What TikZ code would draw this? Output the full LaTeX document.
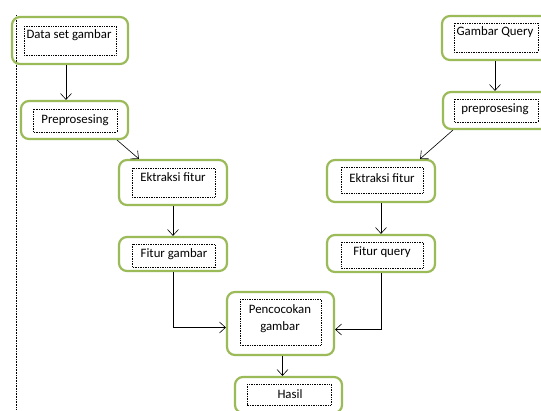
\documentclass[tikz,border=0pt]{standalone}
\usepackage{fontspec}
\setmainfont{Carlito}
\usepackage{tikz}
\usetikzlibrary{arrows.meta}

\definecolor{boxgreen}{RGB}{155,187,89}
\tikzset{
	outerbox/.style = {draw = boxgreen, line width = 2.2pt, rounded corners = 8pt, inner sep = 0pt},
	innerbox/.style = {densely dotted, line width = 0.7pt},
	label/.style = {font = \fontsize{12.8}{17}\selectfont, inner sep = 0pt, align = center},
	link/.style = {-{Straight Barb[length=6pt, width=11pt]}, line width = 0.6pt}
}

\begin{document}
\begin{tikzpicture}[x = 1pt, y = -1pt]
\clip (0,0) rectangle (541,410);

% dotted margin line
\draw[densely dotted, line width = 0.6pt] (16,15) -- (16,410);

% left branch
\node[outerbox, minimum width = 116pt, minimum height = 47pt] (dsg) at (70,40.5) {};
\draw[innerbox] (24,26) rectangle (116,55);
\node[label] (dsgT) at (69,35) {Data set gambar};

\node[outerbox, minimum width = 107pt, minimum height = 38pt] (preL) at (74.5,120) {};
\draw[innerbox] (33,109) rectangle (117,132);
\node[label] (preLT) at (75,120) {Preprosesing};

\node[outerbox, minimum width = 108pt, minimum height = 45pt] (ektL) at (173,182.5) {};
\draw[innerbox] (132,168) rectangle (215,197);
\node[label] (ektLT) at (173,177) {Ektraksi fitur};

\node[outerbox, minimum width = 108pt, minimum height = 34pt] (fitG) at (173,254) {};
\draw[innerbox] (132,244) rectangle (215,267);
\node[label] (fitGT) at (174,254) {Fitur gambar};

% right branch
\node[outerbox, minimum width = 108pt, minimum height = 44pt] (gq) at (496,38) {};
\draw[innerbox] (454,23) rectangle (538,52);
\node[label] (gqT) at (495,32) {Gambar Query};

\node[outerbox, minimum width = 108pt, minimum height = 37pt] (preR) at (497,110.5) {};
\draw[innerbox] (454,99) rectangle (538,122);
\node[label] (preRT) at (495,109) {preprosesing};

\node[outerbox, minimum width = 108pt, minimum height = 42pt] (ektR) at (381,181) {};
\draw[innerbox] (341,167) rectangle (423,193);
\node[label] (ektRT) at (382,178) {Ektraksi fitur};

\node[outerbox, minimum width = 108pt, minimum height = 37pt] (fitQ) at (381,253.5) {};
\draw[innerbox] (341,242) rectangle (423,268);
\node[label] (fitQT) at (382,252) {Fitur query};

% matching and result
\node[outerbox, minimum width = 107pt, minimum height = 63pt] (cocok) at (280.5,323.5) {};
\draw[innerbox] (240,299) rectangle (321,345);
\node[label] (cocokT) at (280,319) {Pencocokan\\gambar};

\node[outerbox, minimum width = 107pt, minimum height = 36pt] (hasil) at (288.5,395) {};
\draw[innerbox] (247,384) rectangle (331,405);
\node[label] (hasilT) at (290,394) {Hasil};

% connectors
\draw[link] ([xshift = -4pt]dsg.south) -- ([xshift = -4pt]dsg.south |- preL.north);
\draw[link] ([xshift = -12pt]preL.south east) -- ([xshift = 21pt]ektL.north west);
\draw[link] (ektL.south) -- (fitG.north);
\draw[link] (fitG.south) |- ([yshift = -4pt]cocok.west);
\draw[link] ([xshift = -1pt]gq.south) -- ([xshift = -1pt]gq.south |- preR.north);
\draw[link] ([xshift = 11pt]preR.south west) -- ([xshift = -16pt]ektR.north east);
\draw[link] (ektR.south) -- (fitQ.north);
\draw[link] (fitQ.south) |- ([yshift = -6pt]cocok.east);
\draw[link] ([xshift = 2pt]cocok.south) -- ([xshift = 2pt]cocok.south |- hasil.north);

\end{tikzpicture}
\end{document}
